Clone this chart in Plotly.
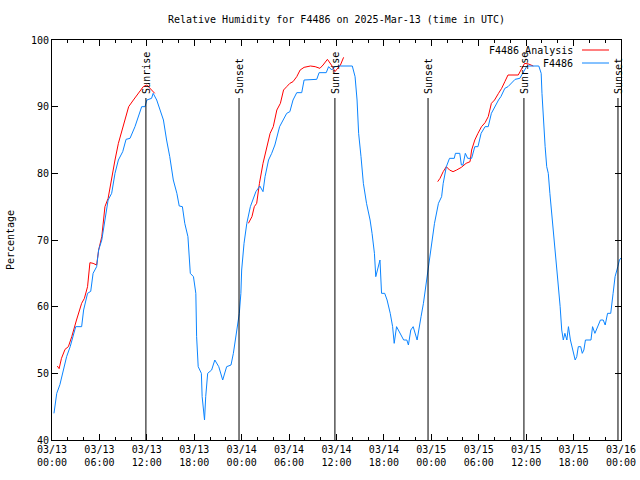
import pandas as pd
import plotly.graph_objects as go

START = pd.Timestamp("2025-03-13 00:00")

# F4486 observations: hours since 03/13 00:00 UTC, relative humidity (%)
obs_hours = [0.25, 0.6, 1.0, 1.4, 1.85, 2.3, 2.8, 3.0, 3.75, 4.0, 4.5, 4.9, 5.2, 5.65, 5.9,
             6.3, 6.7, 7.1, 7.55, 7.97, 8.4, 8.95, 9.37, 9.87, 10.5, 10.9, 11.35, 11.77, 12.0,
             12.6, 12.8, 13.25, 13.7, 14.1, 14.5, 14.9, 15.35, 15.8, 16.1, 16.5, 16.8, 17.2,
             17.5, 17.9, 18.2, 18.3, 18.5, 18.9, 19.0, 19.3, 19.45, 19.7, 20.2, 20.6, 21.1,
             21.6, 22.1, 22.65, 22.95, 23.4, 23.7, 23.9, 24.0, 24.3, 24.65, 25.1, 25.4, 25.8,
             26.3, 26.7, 26.96, 27.4, 27.8, 28.2, 28.8, 29.3, 29.7, 30.1, 30.5, 30.97, 31.6,
             31.9, 32.7, 33.5, 33.8, 34.7, 35.0, 35.4, 35.8, 36.5, 38.0, 38.35, 38.6, 38.8,
             39.1, 39.4, 39.8, 40.25, 40.5, 40.8, 40.97, 41.2, 41.5, 41.7, 42.1, 42.4, 42.8,
             43.1, 43.3, 43.6, 44.05, 44.5, 44.9, 45.1, 45.4, 45.7, 46.2, 46.45, 46.7, 47.0,
             47.4, 47.8, 48.0, 48.4, 48.9, 49.3, 49.5, 49.9, 50.3, 50.9, 51.05, 51.6, 51.8,
             52.0, 52.3, 52.6, 53.1, 53.5, 53.9, 54.3, 54.8, 55.2, 55.6, 56.0, 56.5, 56.8,
             57.3, 57.7, 58.1, 58.6, 59.2, 59.6, 60.1, 61.6, 61.9, 62.0, 62.2, 62.4, 62.6,
             62.8, 63.0, 63.25, 63.45, 63.8, 64.0, 64.3, 64.5, 64.7, 64.9, 65.15, 65.35, 65.6,
             65.8, 66.0, 66.2, 66.4, 66.6, 66.9, 67.1, 67.3, 67.5, 68.2, 68.4, 68.7, 69.1,
             69.4, 69.75, 70.0, 70.3, 70.7, 71.0, 71.25, 71.6, 71.8, 72.0]
obs_rh = [44.0, 47.0, 48.3, 50.5, 52.5, 54.0, 56.0, 57.0, 57.0, 59.5, 62.0, 62.3, 65.0, 66.0, 68.5,
          70.0, 73.0, 76.0, 77.0, 80.0, 82.0, 83.25, 85.1, 85.25, 87.0, 88.5, 90.0, 90.0, 91.0,
          91.25, 92.0, 91.0, 89.5, 88.0, 85.0, 82.5, 79.0, 77.0, 75.1, 75.0, 72.5, 70.5,
          65.0, 64.5, 62.0, 55.5, 51.0, 50.0, 46.5, 43.0, 46.5, 50.0, 50.5, 52.0, 51.0,
          49.0, 51.0, 51.25, 53.0, 57.0, 59.0, 62.0, 65.5, 69.5, 72.5, 75.0, 76.0, 77.25,
          78.1, 77.25, 79.5, 82.0, 83.0, 84.25, 87.0, 88.0, 89.0, 89.25, 91.0, 92.1, 92.1,
          94.0, 94.0, 94.1, 95.1, 95.1, 96.0, 95.5, 96.0, 96.1, 96.1, 94.5, 91.0, 86.0,
          82.5, 78.5, 75.5, 73.0, 71.0, 68.0, 64.5, 65.5, 67.0, 62.0, 62.0, 61.0, 59.0,
          57.0, 54.5, 57.0, 56.0, 55.0, 55.0, 54.25, 56.5, 57.0, 55.0, 56.5, 58.5, 60.5,
          64.0, 67.5, 68.5, 72.5, 75.5, 76.5, 78.5, 81.0, 82.25, 82.25, 83.0, 83.0, 81.25,
          81.25, 83.0, 82.25, 82.25, 84.0, 84.0, 86.0, 87.0, 87.0, 89.0, 90.0, 91.0, 91.5,
          92.75, 93.0, 93.5, 94.1, 94.25, 95.0, 96.1, 96.1, 95.0, 92.0, 87.5, 84.0, 81.0,
          80.0, 77.0, 74.0, 71.0, 67.0, 64.0, 60.0, 56.5, 55.0, 56.0, 55.0, 57.0, 55.0,
          54.0, 53.0, 52.0, 52.5, 54.0, 54.0, 53.0, 53.5, 55.0, 55.0, 57.0, 56.0, 57.0,
          58.0, 58.0, 57.25, 59.0, 59.0, 62.0, 64.5, 66.0, 67.0, 67.3]

# F4486 analysis: three daytime segments
ana1_hours = [0.67, 0.9, 1.2, 1.65, 2.07, 2.5, 3.1, 3.75, 4.1, 4.5, 4.8, 5.2, 5.65, 5.9, 6.3,
              6.7, 7.1, 7.55, 7.97, 8.4, 8.8, 9.25, 9.7, 10.3, 10.9, 11.55, 12.0, 12.4, 13.0]
ana1_rh = [51.1, 50.7, 52.25, 53.6, 54.0, 55.5, 58.0, 60.5, 61.25, 63.0, 66.6, 66.5, 66.25, 68.5,
           70.5, 75.0, 76.25, 79.5, 82.0, 84.5, 86.25, 88.0, 90.0, 91.0, 92.0, 93.0, 93.25, 92.75, 92.0]
ana2_hours = [24.85, 25.3, 25.6, 25.9, 26.25, 26.7, 27.1, 27.6, 28.0, 28.45, 28.9, 29.3, 29.7,
              30.1, 30.5, 30.97, 31.4, 31.9, 32.7, 33.3, 33.9, 34.3, 34.85, 35.2, 35.5, 35.8,
              36.1, 36.5, 36.9]
ana2_rh = [72.5, 73.5, 75.0, 75.5, 78.5, 81.5, 83.5, 86.0, 87.0, 89.5, 90.5, 92.5, 93.0, 93.5,
           93.75, 94.5, 95.5, 95.9, 96.1, 96.0, 95.75, 96.25, 97.1, 96.5, 96.0, 95.25, 95.75,
           96.25, 97.4]
ana3_hours = [48.8, 49.1, 49.5, 49.9, 50.3, 50.75, 51.2, 51.8, 52.4, 52.9, 53.1, 53.5, 53.9,
              54.35, 54.8, 55.2, 55.6, 56.0, 56.5, 56.9, 57.3, 57.7, 59.0, 59.4, 59.8, 60.3, 60.9]
ana3_rh = [78.75, 79.25, 80.25, 81.0, 80.5, 80.25, 80.5, 80.9, 81.5, 81.75, 83.5, 85.0, 86.0,
           87.0, 87.6, 88.5, 90.5, 91.0, 92.0, 92.75, 93.75, 94.75, 94.75, 95.75, 96.5, 96.4, 96.1]

sunrise_times = ["2025-03-13 11:53", "2025-03-14 11:48", "2025-03-15 11:43"]
sunset_times = ["2025-03-13 23:40", "2025-03-14 23:35", "2025-03-15 23:37"]

x_tick_vals = ["2025-03-13 00:00", "2025-03-13 06:00", "2025-03-13 12:00", "2025-03-13 18:00",
               "2025-03-14 00:00", "2025-03-14 06:00", "2025-03-14 12:00", "2025-03-14 18:00",
               "2025-03-15 00:00", "2025-03-15 06:00", "2025-03-15 12:00", "2025-03-15 18:00",
               "2025-03-16 00:00"]
x_tick_text = ["03/13<br>00:00", "03/13<br>06:00", "03/13<br>12:00", "03/13<br>18:00",
               "03/14<br>00:00", "03/14<br>06:00", "03/14<br>12:00", "03/14<br>18:00",
               "03/15<br>00:00", "03/15<br>06:00", "03/15<br>12:00", "03/15<br>18:00",
               "03/16<br>00:00"]
y_tick_vals = [40, 50, 60, 70, 80, 90, 100]


def to_time(hours):
    return [START + pd.Timedelta(hours=h) for h in hours]


FONT = "DejaVu Sans Mono"
RED = "#ff0000"
BLUE = "#0a84ff"

fig = go.Figure()
for hrs, vals in [(ana1_hours, ana1_rh), (ana2_hours, ana2_rh), (ana3_hours, ana3_rh)]:
    fig.add_trace(go.Scatter(x=to_time(hrs), y=vals, mode="lines",
                             line=dict(color=RED, width=1), showlegend=False,
                             name="F4486 Analysis"))
fig.add_trace(go.Scatter(x=to_time(obs_hours), y=obs_rh, mode="lines",
                         line=dict(color=BLUE, width=1), showlegend=False, name="F4486"))

shapes = []
annotations = []
for times, label in [(sunrise_times, "Sunrise"), (sunset_times, "Sunset")]:
    for t in times:
        shapes.append(dict(type="line", xref="x", yref="y", x0=t, x1=t, y0=40, y1=91.3,
                           line=dict(color="black", width=1)))
        annotations.append(dict(x=t, y=91.6, xref="x", yref="y", text=label, textangle=-90,
                                showarrow=False, xanchor="center", yanchor="bottom",
                                font=dict(family=FONT, size=10, color="black")))

# legend drawn gnuplot-style (text right, sample at far right)
for row, (label, color) in enumerate([("F4486 Analysis", RED), ("F4486", BLUE)]):
    ypix = 50 + row * 13
    yp = 1 - (ypix - 40) / 400
    annotations.append(dict(x=(575 - 52) / 569, y=yp, xref="paper", yref="paper", text=label,
                            showarrow=False, xanchor="right", yanchor="middle",
                            font=dict(family=FONT, size=10, color="black")))
    shapes.append(dict(type="line", xref="paper", yref="paper",
                       x0=(582 - 52) / 569, x1=(609 - 52) / 569, y0=yp, y1=yp,
                       line=dict(color=color, width=1)))

fig.update_layout(
    width=640, height=480,
    margin=dict(l=52, r=19, t=40, b=40),
    paper_bgcolor="white", plot_bgcolor="white",
    title=dict(text="Relative Humidity for F4486 on 2025-Mar-13 (time in UTC)",
               x=(52 + 621) / 2 / 640, xanchor="center", y=1 - 19 / 480, yanchor="middle",
               font=dict(family=FONT, size=10, color="black")),
    font=dict(family=FONT, size=10, color="black"),
    shapes=shapes, annotations=annotations,
    showlegend=False,
)
fig.update_xaxes(
    type="date", range=["2025-03-13 00:00", "2025-03-16 00:00"], automargin=False,
    tickmode="array", tickvals=x_tick_vals, ticktext=x_tick_text,
    ticks="inside", ticklen=6, tickcolor="black", tickwidth=1,
    minor=dict(ticks="inside", ticklen=3, dtick=2 * 3600 * 1000, tickcolor="black",
               tick0="2025-03-13 00:00"),
    showline=True, linecolor="black", linewidth=1, mirror="ticks",
    showgrid=False, zeroline=False, tickfont=dict(family=FONT, size=10),
)
fig.update_yaxes(
    range=[40, 100], tickmode="array", tickvals=y_tick_vals, automargin=False,
    ticks="inside", ticklen=6, tickcolor="black", tickwidth=1,
    showline=True, linecolor="black", linewidth=1, mirror="ticks",
    showgrid=False, zeroline=False, tickfont=dict(family=FONT, size=10),
    title=dict(text="Percentage", font=dict(family=FONT, size=10), standoff=14),
)

fig.write_html("out.html", config={"displayModeBar": False},
               post_script="document.body.style.margin='0';document.body.style.padding='0';")
